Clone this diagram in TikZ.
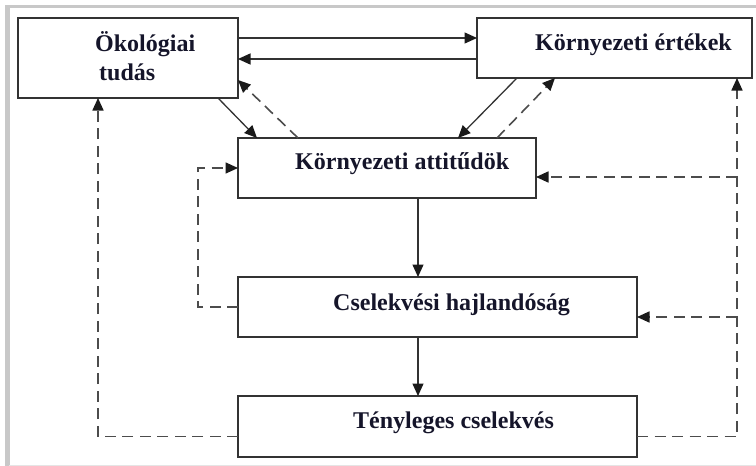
\documentclass[tikz,border=0pt]{standalone}
\usepackage{fontspec}
\setmainfont{Liberation Serif}
\usetikzlibrary{arrows.meta}
\definecolor{txtc}{HTML}{15152A}
\definecolor{linec}{HTML}{333333}
\definecolor{dashc}{HTML}{4C4C4C}
\definecolor{tipc}{HTML}{1A1A1A}
\definecolor{framec}{HTML}{C8C8C8}
\begin{document}
\begin{tikzpicture}[x=1pt,y=-1pt,
  box/.style={draw=linec,line width=1.3pt,fill=white,inner sep=0pt,outer sep=0pt},
  lbl/.style={anchor=base west,inner sep=0pt,text=txtc,font=\fontsize{24}{29}\selectfont\bfseries},
  arr/.style={draw=linec,line width=1.3pt,-{Triangle[length=12.5pt,width=11pt,color=tipc]}},
  darr/.style={draw=dashc,line width=1.6pt,dash pattern=on 11pt off 6.5pt,-{Triangle[length=12.5pt,width=11pt,color=tipc]}}]
\useasboundingbox (0,0) rectangle (756,466);
% frame
\fill[white] (0,0) rectangle (756,466);
\fill[framec] (5,5) rectangle (9.5,466);
\fill[framec] (5,5) rectangle (756,8);
\draw[color=black!10,line width=1pt] (9,465) -- (756,465);
% boxes
\node[box,minimum width=220pt,minimum height=80pt] (oko) at (128,58) {};
\node[box,minimum width=275pt,minimum height=60pt] (ert) at (614.5,48) {};
\node[box,minimum width=298pt,minimum height=60pt] (att) at (387,168) {};
\node[box,minimum width=399pt,minimum height=60pt] (cse) at (437.5,307) {};
\node[box,minimum width=399pt,minimum height=61pt] (teny) at (437.5,426.5) {};
% labels
\node[lbl] (okot) at (95,51) {Ökológiai};
\node[lbl] (okob) at (99,80) {tudás};
\node[lbl] (ertt) at (535,50) {Környezeti értékek};
\node[lbl] (attt) at (295,169) {Környezeti attitűdök};
\node[lbl] (cset) at (333,310) {Cselekvési hajlandóság};
\node[lbl] (tent) at (353,428) {Tényleges cselekvés};
% solid connectors
\draw[arr] ([yshift=-20pt]oko.north east) -- ([yshift=-20pt]ert.north west);
\draw[arr] ([yshift=-41pt]ert.north west) -- ([yshift=-41pt]oko.north east);
\draw[arr] ([xshift=200pt]oko.south west) -- ([xshift=19pt]att.north west);
\draw[arr] ([xshift=40pt]ert.south west) -- ([xshift=220pt]att.north west);
\draw[arr] ([xshift=180pt]att.south west) -- ([xshift=180pt]cse.north west);
\draw[arr] ([xshift=180pt]cse.south west) -- ([xshift=180pt]teny.north west);
% dashed connectors
\draw[darr] ([xshift=60pt]att.north west) -- ([yshift=18pt]oko.south east);
\draw[darr] ([xshift=259pt]att.north west) -- ([xshift=78pt]ert.south west);
\draw[darr] (cse.west) -- ++(-40,0) |- (att.west);
\draw[darr] ([yshift=-10pt]teny.west) -| ([xshift=80pt]oko.south west);
\coordinate (rv) at ([xshift=-15pt]ert.south east);
\coordinate (ae) at ([yshift=-9pt]att.east);
\coordinate (ce) at ([yshift=-10pt]cse.east);
\draw[darr] ([yshift=-10pt]teny.east) -| (rv);
\draw[darr] (rv |- ae) -- (ae);
\draw[darr] (rv |- ce) -- (ce);
\end{tikzpicture}
\end{document}
